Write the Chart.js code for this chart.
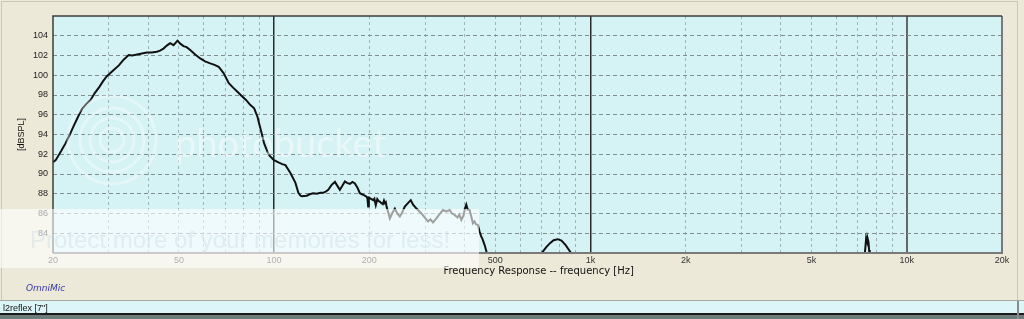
<!DOCTYPE html>
<html>
<head>
<meta charset="utf-8">
<title>OmniMic frequency response</title>
<script src="https://cdn.jsdelivr.net/npm/chart.js@4.4.1/dist/chart.umd.min.js"></script>
<style>
  html, body { margin: 0; padding: 0; background: #ece9d8; }
  canvas { display: block; }
</style>
</head>
<body>
<canvas id="frChart" width="1024" height="319"></canvas>
<script>
// Response trace (Hz / dB SPL)
const freqHz = [
  20, 20.4, 21.2, 21.9, 22.6, 23.2, 24, 24.7, 25.5, 26.3, 27.1, 28, 28.8, 29.6, 30.8, 32.3, 33.5, 34.7,
  35.6, 36.9, 38.2, 39.6, 41, 42.6, 43.6, 44.7, 45.8, 46.9, 48.1, 49.5, 50.5, 51.7, 52.9, 54.3, 56.3,
  58.4, 60.5, 62.8, 64.8, 66.8, 68, 69.3, 71.9, 74.2, 76.7, 79, 81.5, 84, 86.5, 87.6, 88.6, 89.7, 90.8,
  93, 94.6, 96.4, 99.9, 103.6, 106.1, 108.6, 112.6, 116.8, 119.3, 121.2, 122.5, 126.8, 129.5, 132.9,
  136.5, 140, 143, 146, 148.3, 152, 155.7, 158.5, 161.4, 164.3, 167.4, 170, 173.6, 177, 180, 183.5,
  186.7, 191, 196, 197.3, 198.3, 199.3, 202, 205.6, 207.5, 209.6, 211.9, 214, 215.9, 218.5, 220.7,
  222.5, 223.9, 225.5, 226.7, 229.5, 232.2, 236, 240.8, 245, 249.7, 254, 258.9, 264, 270.4, 275,
  281.9, 286, 292.3, 299, 306.6, 312, 318, 325.9, 333, 341.9, 350, 358.9, 365, 372.1, 380, 385, 390.7,
  397, 401, 405.1, 409, 415, 420, 425.1, 430, 435, 440.8, 446, 451.9, 456, 462.9, 468.6, 474, 490,
  540, 620, 690, 707, 725, 745, 765, 788, 810, 835, 864, 885, 950, 1200, 2000, 3500, 5500, 7000,
  7350, 7400, 7440, 7470, 7500, 7530, 7570, 7600, 7640, 7800, 9000, 14000, 20000
];
const splDb = [
  91.2, 91.4, 92.3, 93.1, 94.0, 94.8, 95.8, 96.6, 97.1, 97.5, 98.2, 98.8, 99.4, 99.9, 100.4, 101.0, 101.6, 102.05,
  102.0, 102.1, 102.2, 102.3, 102.3, 102.38, 102.5, 102.7, 103.0, 103.25, 103.05, 103.5, 103.2, 102.95, 102.85, 102.55, 102.1,
  101.7, 101.4, 101.2, 101.05, 100.85, 100.55, 100.2, 99.2, 98.75, 98.3, 97.9, 97.5, 97.0, 96.65, 96.2, 95.8, 95.1, 94.45,
  93.1, 92.5, 91.9, 91.4, 91.15, 91.0, 90.9, 90.1, 89.1, 88.1, 87.8, 87.75, 87.8, 87.95, 88.05,
  88.0, 88.1, 88.1, 88.25, 88.4, 88.9, 89.2, 88.8, 88.4, 88.8, 89.25, 89.1, 89.0, 89.2, 89.05, 88.6,
  88.05, 87.9, 87.7, 87.5, 86.7, 87.6, 87.5, 87.35, 87.5, 86.85, 87.45, 87.25, 87.2, 87.05, 86.95,
  87.3, 87.05, 87.15, 86.7, 86.1, 85.5, 86.0, 86.5, 86.0, 85.7, 86.1, 86.7, 87.0, 87.35, 86.9,
  86.5, 86.3, 86.0, 85.6, 85.2, 85.4, 85.1, 85.5, 85.9, 86.35, 86.2, 86.35, 86.0, 85.85, 85.6, 85.9, 85.35,
  85.8, 86.5, 86.9, 86.4, 86.35, 85.7, 85.0, 85.2, 84.9, 84.85, 84.2, 83.65, 83.4, 82.8, 82.2, 81.0, 79.5,
  78.5, 79.0, 81.6, 82.15, 82.6, 83.0, 83.3, 83.4, 83.25, 82.8, 82.1, 81.4, 79.5, 77.5, 76.5, 76.0, 77.0, 79.5,
  81.6, 82.6, 83.5, 83.3, 83.0, 83.4, 83.1, 82.3, 81.5, 79.5, 77.5, 76.0, 75.5
];

// Axes
const gridFreqs = [
  20, 30, 40, 50, 60, 70, 80, 90, 100, 200, 300, 400, 500, 600, 700, 800, 900,
  1000, 2000, 3000, 4000, 5000, 6000, 7000, 8000, 9000, 10000, 20000
];
const labelFreqs = [20, 50, 100, 200, 500, 1000, 2000, 5000, 10000, 20000];
const labelText = ['20', '50', '100', '200', '500', '1k', '2k', '5k', '10k', '20k'];
const dbTicks = [84, 86, 88, 90, 92, 94, 96, 98, 100, 102, 104];

const UI_FONT = '"Liberation Sans", Arial, sans-serif';
const WIDE_FONT = '"DejaVu Sans", Verdana, sans-serif';

// window chrome, plot frame and the image-host watermark
const decor = {
  id: 'decor',
  beforeDraw(chart) {
    const { ctx, chartArea: a, width, height } = chart;
    ctx.save();
    ctx.fillStyle = '#ece9d8';
    ctx.fillRect(0, 0, width, height);
    ctx.strokeStyle = '#c9c6b5';
    ctx.lineWidth = 1;
    ctx.strokeRect(1.5, 1.5, 1016, 299);
    ctx.fillStyle = '#d5f2f5';
    ctx.fillRect(a.left, a.top, a.right - a.left, a.bottom - a.top);
    ctx.restore();
  },
  afterDraw(chart) {
    const { ctx, chartArea: a } = chart;
    ctx.save();

    // plot frame
    ctx.lineWidth = 2;
    ctx.strokeStyle = '#7a7a7a';
    ctx.beginPath();
    ctx.moveTo(a.right, a.top);
    ctx.lineTo(a.right, a.bottom);
    ctx.lineTo(a.left, a.bottom);
    ctx.stroke();
    ctx.lineWidth = 1.5;
    ctx.strokeStyle = '#3c3c3c';
    ctx.beginPath();
    ctx.moveTo(a.left, a.bottom);
    ctx.lineTo(a.left, a.top);
    ctx.lineTo(a.right, a.top);
    ctx.stroke();

    // watermark logo + text
    ctx.strokeStyle = 'rgba(255,255,255,0.35)';
    ctx.lineWidth = 3;
    [12, 22, 32, 44].forEach(r => {
      ctx.beginPath();
      ctx.arc(112, 140, r, 0, Math.PI * 2);
      ctx.stroke();
    });
    ctx.fillStyle = 'rgba(255,255,255,0.45)';
    ctx.font = '38px Lato, sans-serif';
    ctx.textBaseline = 'alphabetic';
    ctx.fillText('photobucket', 175, 157);

    ctx.fillStyle = 'rgba(255,255,255,0.6)';
    ctx.fillRect(0, 209, 479, 59);
    ctx.fillStyle = 'rgba(205,222,228,0.45)';
    ctx.font = '24px ' + UI_FONT;
    ctx.fillText('Protect more of your memories for less!', 30, 248);

    // label under the graph
    ctx.fillStyle = '#3434b0';
    ctx.font = 'italic 9px ' + WIDE_FONT;
    ctx.fillText('OmniMic', 26, 291);

    // bottom status strip
    ctx.fillStyle = '#a9a9a2';
    ctx.fillRect(0, 300, 1024, 1);
    ctx.fillStyle = '#dcf5f8';
    ctx.fillRect(0, 301, 1024, 12);
    ctx.fillStyle = '#1c1c1c';
    ctx.fillRect(0, 313, 1024, 2);
    ctx.fillStyle = '#6f7c7c';
    ctx.fillRect(0, 315, 1024, 4);
    ctx.fillStyle = '#8b8b8b';
    ctx.fillRect(1017, 301, 2, 18);
    ctx.fillStyle = '#111';
    ctx.font = '9px ' + UI_FONT;
    ctx.fillText('l2reflex [7"]', 3, 311);

    ctx.restore();
  }
};

const majorFreqs = [100, 1000, 10000];

new Chart(document.getElementById('frChart'), {
  type: 'line',
  data: {
    datasets: [{
      label: 'l2reflex [7"]',
      data: freqHz.map((f, i) => ({ x: f, y: splDb[i] })),
      borderColor: '#111111',
      borderWidth: 2,
      pointRadius: 0,
      tension: 0,
      clip: 0
    }]
  },
  options: {
    responsive: false,
    animation: false,
    devicePixelRatio: 1,
    layout: { padding: { left: 0, top: 16, right: 22, bottom: 42 } },
    plugins: {
      legend: { display: false },
      tooltip: { enabled: false }
    },
    scales: {
      x: {
        type: 'logarithmic',
        min: 20,
        max: 20000,
        afterBuildTicks: s => { s.ticks = gridFreqs.map(v => ({ value: v })); },
        afterFit: s => { s.height = 24; },
        ticks: {
          autoSkip: false,
          maxRotation: 0,
          padding: 2,
          color: '#333',
          font: { family: UI_FONT, size: 9 },
          callback: v => {
            const i = labelFreqs.indexOf(v);
            return i >= 0 ? labelText[i] : '';
          }
        },
        grid: {
          drawTicks: false,
          color: c => {
            const v = c.tick && c.tick.value;
            if (v === 20 || v === 20000) return 'rgba(0,0,0,0)';
            if (v === 10000) return '#666';
            if (majorFreqs.includes(v)) return '#2a2a2a';
            return '#9fb3b7';
          },
          lineWidth: c => {
            const v = c.tick && c.tick.value;
            if (v === 10000) return 2;
            return majorFreqs.includes(v) ? 1.5 : 1;
          }
        },
        border: {
          display: false,
          dash: c => (c.tick && majorFreqs.includes(c.tick.value)) ? [] : [3, 3]
        },
        title: {
          display: true,
          // leading spaces nudge the centred title right, as in the original
          text: '       Frequency Response -- frequency [Hz]',
          color: '#111',
          font: { family: WIDE_FONT, size: 10 },
          padding: 0
        }
      },
      y: {
        min: 82,
        max: 106,
        afterFit: s => { s.width = 53; },
        ticks: {
          stepSize: 2,
          padding: 5,
          color: '#222',
          font: { family: UI_FONT, size: 9 },
          callback: v => dbTicks.includes(v) ? String(v) : ''
        },
        grid: {
          drawTicks: false,
          color: c => (c.tick && dbTicks.includes(c.tick.value)) ? '#7f8e91' : 'rgba(0,0,0,0)',
          lineWidth: 1
        },
        border: { display: false, dash: [4, 3] },
        title: {
          display: true,
          text: '[dBSPL]',
          color: '#111',
          font: { family: UI_FONT, size: 9 },
          padding: { top: 16, bottom: 0 }
        }
      }
    }
  },
  plugins: [decor]
});
</script>
</body>
</html>
